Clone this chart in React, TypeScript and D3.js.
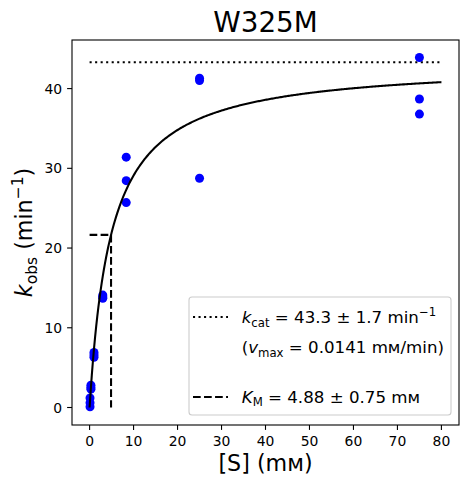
import React from "react";
import * as d3 from "d3";

// measured substrate concentrations (mM) and observed rates (min^-1)
const concentrations = [0.1, 0.1, 0.1, 0.3, 0.3, 0.3, 1, 1, 1, 3, 3, 3, 8.33, 8.33, 8.33, 25, 25, 25, 75, 75, 75];
const rates = [1.2, 0.6, 0.1, 2.8, 2.5, 2.3, 6.9, 6.6, 6.3, 14.1, 13.9, 13.7, 31.4, 28.45, 25.7, 41.3, 41.0, 28.75, 43.9, 38.7, 36.8];

// fitted Michaelis-Menten parameters
const kcat = 43.3;
const km = 4.88;
const curveMax = 80;

const xTicks = [0, 10, 20, 30, 40, 50, 60, 70, 80];
const yTicks = [0, 10, 20, 30, 40];

const W = 469;
const H = 484;
const margin = { top: 40, right: 10, bottom: 59, left: 72 };
const FONT = "DejaVu Sans, sans-serif";

export default function App() {
    const x = d3.scaleLinear().domain([-4, 84]).range([margin.left, W - margin.right]);
    const y = d3.scaleLinear().domain([-2.195, 46.095]).range([H - margin.bottom, margin.top]);

    const fitPoints = d3.range(0, curveMax + 0.001, 0.25).map(s => [s, (kcat * s) / (km + s)] as [number, number]);
    const fitLine = d3.line<[number, number]>().x(d => x(d[0])).y(d => y(d[1]))(fitPoints) || "";

    const left = margin.left;
    const right = W - margin.right;
    const top = margin.top;
    const bottom = H - margin.bottom;

    const lg = { x: 189, y: 297, w: 262, h: 118 };
    const textX = 241.7;
    const fs = 16.67;
    const sub = 11.7;

    return (
        <svg width={W} height={H} style={{ position: "absolute", left: 0, top: 0, background: "#fff" }} fontFamily={FONT}>
            <rect x={0} y={0} width={W} height={H} fill="#fff" />

            {/* title */}
            <text x={(left + right) / 2} y={32.3} textAnchor="middle" fontSize={27.8} fill="#000">W325M</text>

            {/* reference lines */}
            <line x1={x(0)} x2={x(curveMax)} y1={y(kcat)} y2={y(kcat)} stroke="#000" strokeWidth={2.08} strokeDasharray="2.08 3.44" />
            <line x1={x(0)} x2={x(km)} y1={y(kcat / 2)} y2={y(kcat / 2)} stroke="#000" strokeWidth={2.08} strokeDasharray="7.7 3.33" />
            <line x1={x(km)} x2={x(km)} y1={y(kcat / 2)} y2={y(0)} stroke="#000" strokeWidth={2.08} strokeDasharray="7.7 3.33" />

            {/* data */}
            {concentrations.map((c, i) => (
                <circle key={i} cx={x(c)} cy={y(rates[i])} r={4.5} fill="#0000ff" />
            ))}

            {/* fit */}
            <path d={fitLine} fill="none" stroke="#000" strokeWidth={2.08} />

            {/* axes frame */}
            <rect x={left} y={top} width={right - left} height={bottom - top} fill="none" stroke="#000" strokeWidth={1.1} />

            {xTicks.map(t => (
                <g key={"x" + t}>
                    <line x1={x(t)} x2={x(t)} y1={bottom} y2={bottom + 4.9} stroke="#000" strokeWidth={1.1} />
                    <text x={x(t)} y={445.7} textAnchor="middle" fontSize={13.9} fill="#000">{t}</text>
                </g>
            ))}
            {yTicks.map(t => (
                <g key={"y" + t}>
                    <line x1={left - 4.9} x2={left} y1={y(t)} y2={y(t)} stroke="#000" strokeWidth={1.1} />
                    <text x={left - 9.8} y={y(t) + 5} textAnchor="end" fontSize={13.9} fill="#000">{t}</text>
                </g>
            ))}

            {/* axis labels */}
            <text x={(left + right) / 2} y={471} textAnchor="middle" fontSize={22.2} fill="#000">[S] (mᴍ)</text>
            <text transform={`translate(32,${(top + bottom) / 2}) rotate(-90)`} textAnchor="middle" fontSize={22.2} fill="#000">
                <tspan fontStyle="italic">k</tspan>
                <tspan fontSize={15.5} dy={4.5}>obs</tspan>
                <tspan dy={-4.5}> (min</tspan>
                <tspan fontSize={15.5} dy={-9}>−1</tspan>
                <tspan dy={9}>)</tspan>
            </text>

            {/* legend */}
            <rect x={lg.x} y={lg.y} width={lg.w} height={lg.h} rx={3} fill="#fff" fillOpacity={0.8} stroke="#cccccc" strokeWidth={1.1} />
            <line x1={193} x2={228} y1={317} y2={317} stroke="#000" strokeWidth={2.08} strokeDasharray="2.08 3.44" />
            <line x1={193} x2={228} y1={397} y2={397} stroke="#000" strokeWidth={2.08} strokeDasharray="7.7 3.33" />

            <text x={textX} y={323.3} fontSize={fs} fill="#000">
                <tspan fontStyle="italic">k</tspan>
                <tspan fontSize={sub} dy={3.5}>cat</tspan>
                <tspan dy={-3.5}> = 43.3 ± 1.7 min</tspan>
                <tspan fontSize={sub} dy={-7}>−1</tspan>
            </text>
            <text x={textX} y={353.3} fontSize={fs} fill="#000">
                <tspan>(</tspan>
                <tspan fontStyle="italic">v</tspan>
                <tspan fontSize={sub} dy={3.5}>max</tspan>
                <tspan dy={-3.5}> = 0.0141 mᴍ/min)</tspan>
            </text>
            <text x={textX} y={402.7} fontSize={fs} fill="#000">
                <tspan fontStyle="italic">K</tspan>
                <tspan fontSize={sub} dy={3.5}>M</tspan>
                <tspan dy={-3.5}> = 4.88 ± 0.75 mᴍ</tspan>
            </text>
        </svg>
    );
}
